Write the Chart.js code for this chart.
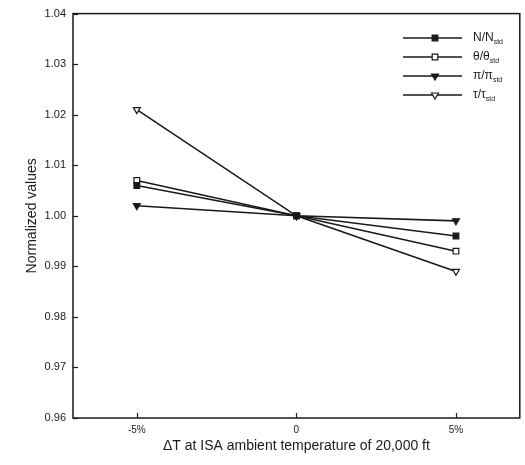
<!DOCTYPE html>
<html>
<head>
<meta charset="utf-8">
<script src="https://cdn.jsdelivr.net/npm/chart.js@4.4.0/dist/chart.umd.min.js"></script>
<style>
  html, body { margin: 0; padding: 0; background: #fff; }
  #wrap { width: 525px; height: 465px; position: relative; }
</style>
</head>
<body>
<div id="wrap"><canvas id="lineChart"></canvas></div>
<script>
// data
const xValues = [-5, 0, 5];
const xTickLabels = ['-5%', '0', '5%'];
const nRatio = [1.006, 1.000, 0.996];
const thetaRatio = [1.007, 1.000, 0.993];
const piRatio = [1.002, 1.000, 0.999];
const tauRatio = [1.021, 1.000, 0.989];
const legendMain = ['N/N', 'θ/θ', 'π/π', 'τ/τ'];
const legendSub = ['std', 'std', 'std', 'std'];

const ink = '#1a1a1a';
const font = 'Liberation Sans, Arial, sans-serif';

function series(values, style, fill, rot) {
  return {
    data: values.map((v, i) => ({ x: xValues[i], y: v })),
    borderColor: ink,
    borderWidth: 1.6,
    pointStyle: style,
    pointRadius: 4,
    pointRotation: rot,
    pointBackgroundColor: fill,
    pointBorderColor: ink,
    pointBorderWidth: 1.2,
    showLine: true,
    tension: 0
  };
}

// legend with subscripts, plus inward ticks and frame
const paperPlugin = {
  id: 'paper',
  afterDraw(chart) {
    const ctx = chart.ctx;
    const a = chart.chartArea;
    ctx.save();
    ctx.strokeStyle = ink;
    ctx.lineWidth = 1.5;
    ctx.strokeRect(a.left, a.top, a.right - a.left, a.bottom - a.top);

    ctx.lineWidth = 1.2;
    const ys = chart.scales.y;
    ys.ticks.forEach(t => {
      const py = Math.round(ys.getPixelForValue(t.value)) + 0.5;
      ctx.beginPath(); ctx.moveTo(a.left, py); ctx.lineTo(a.left + 5, py); ctx.stroke();
    });
    const xs = chart.scales.x;
    xs.ticks.forEach(t => {
      const px = Math.round(xs.getPixelForValue(t.value)) + 0.5;
      ctx.beginPath(); ctx.moveTo(px, a.bottom); ctx.lineTo(px, a.bottom - 5); ctx.stroke();
    });

    const rowY = [38, 57, 76, 95];
    chart.data.datasets.forEach((ds, i) => {
      const y = rowY[i];
      ctx.strokeStyle = ink;
      ctx.lineWidth = 1.6;
      ctx.beginPath(); ctx.moveTo(403, y); ctx.lineTo(462, y); ctx.stroke();
      ctx.fillStyle = ds.pointBackgroundColor;
      ctx.strokeStyle = ink;
      ctx.lineWidth = 1.2;
      Chart.helpers.drawPoint(ctx, {
        pointStyle: ds.pointStyle, radius: 4, rotation: ds.pointRotation,
        borderWidth: 1.2
      }, 435, y);
      ctx.fillStyle = ink;
      ctx.textBaseline = 'middle';
      ctx.font = '12px ' + font;
      ctx.fillText(legendMain[i], 473, y);
      const w = ctx.measureText(legendMain[i]).width;
      ctx.font = '7px ' + font;
      ctx.fillText(legendSub[i], 473 + w, y + 4);
    });
    ctx.restore();
  }
};

new Chart(document.getElementById('lineChart'), {
  type: 'line',
  data: {
    datasets: [
      series(nRatio, 'rect', ink, 0),
      series(thetaRatio, 'rect', '#ffffff', 0),
      series(piRatio, 'triangle', ink, 180),
      series(tauRatio, 'triangle', '#ffffff', 180)
    ]
  },
  options: {
    responsive: true,
    maintainAspectRatio: false,
    animation: false,
    layout: { padding: { top: 11, right: 3, left: 0, bottom: 0 } },
    plugins: {
      legend: { display: false },
      tooltip: { enabled: false }
    },
    scales: {
      x: {
        type: 'linear',
        min: -7,
        max: 7,
        afterBuildTicks(scale) {
          scale.ticks = xValues.map(v => ({ value: v }));
        },
        afterFit(scale) { scale.height = 47; },
        ticks: {
          padding: 6,
          color: ink,
          font: { family: font, size: 10 },
          callback: (v) => xTickLabels[xValues.indexOf(v)]
        },
        grid: { display: false, drawTicks: false },
        border: { display: false },
        title: {
          display: true,
          text: 'ΔT at ISA ambient temperature of 20,000 ft',
          color: ink,
          font: { family: font, size: 14 },
          padding: { top: 4, bottom: 10 }
        }
      },
      y: {
        min: 0.96,
        max: 1.04,
        afterFit(scale) { scale.width = 73; },
        ticks: {
          stepSize: 0.01,
          padding: 7,
          color: ink,
          font: { family: font, size: 11 },
          callback: (v) => v.toFixed(2)
        },
        grid: { display: false, drawTicks: false },
        border: { display: false },
        title: {
          display: true,
          text: 'Normalized values',
          color: ink,
          font: { family: font, size: 14 },
          padding: { top: 24, bottom: 0 }
        }
      }
    }
  },
  plugins: [paperPlugin]
});
</script>
</body>
</html>
